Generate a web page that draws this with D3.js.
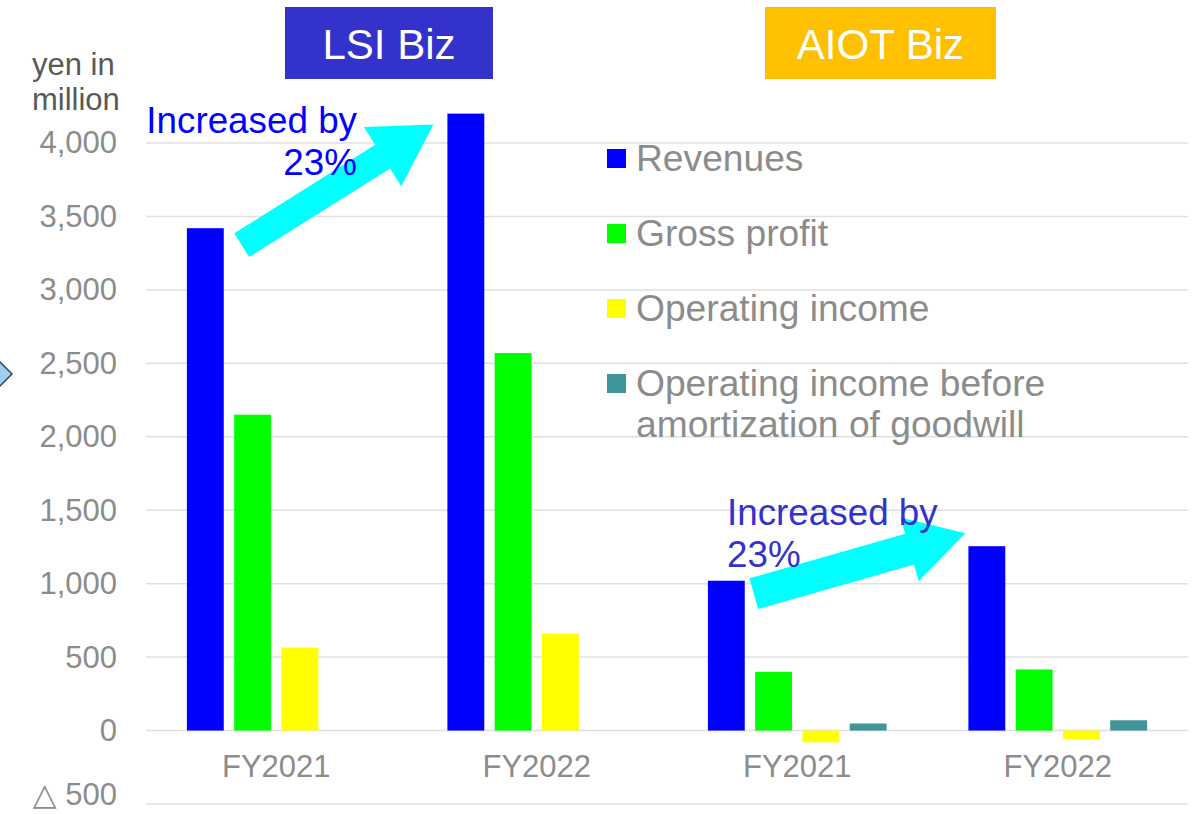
<!DOCTYPE html>
<html>
<head>
<meta charset="utf-8">
<script src="https://cdn.jsdelivr.net/npm/d3@7"></script>
<style>
  html, body { margin: 0; padding: 0; background: #fff; }
  svg { display: block; font-family: "Liberation Sans", Arial, sans-serif; }
</style>
</head>
<body>
<svg id="chart" width="1201" height="814"></svg>
<script>
'use strict'

// chart data
var segments = ['LSI Biz', 'AIOT Biz']
var years = ['FY2021', 'FY2022']
var seriesNames = ['Revenues', 'Gross profit', 'Operating income', 'Operating income before\namortization of goodwill']
var seriesColors = ['#0000ff', '#00ff00', '#ffff00', '#3f9599']
// one value per category: LSI FY2021, LSI FY2022, AIOT FY2021, AIOT FY2022
var revenues = [3420, 4200, 1020, 1255]
var grossProfit = [2150, 2570, 400, 416]
var operatingIncome = [565, 660, -80, -59]
var opIncomeBeforeGoodwill = [null, null, 48, 70]
var yTicks = [-500, 0, 500, 1000, 1500, 2000, 2500, 3000, 3500, 4000]
var growthLabels = ['Increased by|23%', 'Increased by|23%']

var seriesValues = [revenues, grossProfit, operatingIncome, opIncomeBeforeGoodwill]
var categories = []
segments.forEach((s) => years.forEach((y) => categories.push({ segment: s, year: y })))

var svg = d3.select('#chart')
var FONT_GRAY = '#8c8c8c'

var x0 = d3.scaleBand()
  .domain(d3.range(categories.length))
  .range([146, 1188])

var bw = x0.bandwidth()
var x1 = d3.scaleBand()
  .domain(d3.range(seriesNames.length))
  .range([bw * 0.157, bw * 0.843])
  .paddingInner(0.22)

var y = d3.scaleLinear()
  .domain([-500, 4000])
  .range([804, 143])

var fmt = d3.format(',')

// gridlines
svg.append('g')
  .selectAll('line')
  .data(yTicks)
  .enter().append('line')
    .attr('x1', x0.range()[0])
    .attr('x2', x0.range()[1])
    .attr('y1', (d) => y(d))
    .attr('y2', (d) => y(d))
    .attr('stroke', '#e0e0e0')
    .attr('stroke-width', 1.5)

// y axis labels, negatives written with a triangle as in Japanese reports
var yAxis = d3.axisLeft(y).tickValues(yTicks).tickFormat((d) => fmt(Math.abs(d))).tickSize(0).tickPadding(29)
var yLabels = svg.append('g')
  .attr('transform', 'translate(' + x0.range()[0] + ',0)')
  .call(yAxis)
  .call((g) => g.select('.domain').remove())
  .selectAll('text')
    .attr('fill', FONT_GRAY)
    .attr('font-size', 31)
    .attr('font-family', '"Liberation Sans", Arial, sans-serif')

yLabels.filter((d) => d < 0)
  .attr('dy', '0.02em')
  .text(null)
  .call((t) => {
    t.append('tspan')
      .attr('font-family', '"DejaVu Sans", sans-serif')
      .attr('font-size', 31)
      .text('\u25b3')
    t.append('tspan')
      .text((d) => ' ' + fmt(-d))
  })

// unit label
svg.append('text')
  .attr('x', 32).attr('y', 75)
  .attr('font-size', 31).attr('fill', '#595959')
  .text('yen in')
svg.append('text')
  .attr('x', 32).attr('y', 110)
  .attr('font-size', 31).attr('fill', '#595959')
  .text('million')

// x axis labels
var xAxis = d3.axisBottom(x0).tickFormat((i) => categories[i].year).tickSize(0).tickPadding(24)
svg.append('g')
  .attr('transform', 'translate(0,' + y(0) + ')')
  .call(xAxis)
  .call((g) => g.select('.domain').remove())
  .selectAll('text')
    .attr('fill', FONT_GRAY)
    .attr('font-size', 31)
    .attr('font-family', '"Liberation Sans", Arial, sans-serif')

// bars
var barData = []
categories.forEach((c, ci) => {
  seriesValues.forEach((vals, si) => {
    if (vals[ci] != null) barData.push({ ci: ci, si: si, value: vals[ci] })
  })
})

svg.append('g')
  .selectAll('rect')
  .data(barData)
  .enter().append('rect')
    .attr('x', (d) => x0(d.ci) + x1(d.si))
    .attr('width', x1.bandwidth())
    .attr('y', (d) => y(Math.max(0, d.value)))
    .attr('height', (d) => Math.abs(y(d.value) - y(0)))
    .attr('fill', (d) => seriesColors[d.si])

// legend
var legend = svg.append('g')
  .selectAll('g')
  .data(seriesNames)
  .enter().append('g')
    .attr('transform', (d, i) => 'translate(607,' + (149 + i * 75) + ')')

legend.append('rect')
  .attr('width', 19).attr('height', 19)
  .attr('fill', (d, i) => seriesColors[i])

legend.append('text')
  .attr('x', 29).attr('y', 22)
  .attr('font-size', 37.2)
  .attr('fill', FONT_GRAY)
  .selectAll('tspan')
  .data((d) => d.split('\n'))
  .enter().append('tspan')
    .attr('x', 29)
    .attr('dy', (d, i) => i ? 41 : 0)
    .text((d) => d)

// segment title boxes
var titleBoxes = [
  { x: 285, w: 208, fill: '#3333cc' },
  { x: 765, w: 231, fill: '#ffc000' }
]
var titles = svg.append('g')
  .selectAll('g')
  .data(segments)
  .enter().append('g')

titles.append('rect')
  .attr('x', (d, i) => titleBoxes[i].x)
  .attr('y', 7)
  .attr('width', (d, i) => titleBoxes[i].w)
  .attr('height', 72)
  .attr('fill', (d, i) => titleBoxes[i].fill)

titles.append('text')
  .attr('x', (d, i) => titleBoxes[i].x + titleBoxes[i].w / 2)
  .attr('y', 59)
  .attr('text-anchor', 'middle')
  .attr('font-size', 42)
  .attr('fill', '#fff')
  .text((d) => d)

// growth arrows, anchored on the revenue bars they compare
var arrows = [
  { from: 0, to: 1, tail: [18, 17], tip: [-14, 11], shaft: 14, head: 35, headLen: 60 },
  { from: 2, to: 3, tail: [9, 13], tip: [-3, -13], shaft: 16, head: 33, headLen: 58 }
]

function arrowPoints (a) {
  var tx = x0(a.from) + x1(0) + x1.bandwidth() + a.tail[0]
  var ty = y(revenues[a.from]) + a.tail[1]
  var px = x0(a.to) + x1(0) + a.tip[0]
  var py = y(revenues[a.to]) + a.tip[1]
  var len = Math.hypot(px - tx, py - ty)
  var ux = (px - tx) / len
  var uy = (py - ty) / len
  var nx = -uy
  var ny = ux
  var bx = px - ux * a.headLen
  var by = py - uy * a.headLen
  return [
    [tx + nx * a.shaft, ty + ny * a.shaft],
    [bx + nx * a.shaft, by + ny * a.shaft],
    [bx + nx * a.head, by + ny * a.head],
    [px, py],
    [bx - nx * a.head, by - ny * a.head],
    [bx - nx * a.shaft, by - ny * a.shaft],
    [tx - nx * a.shaft, ty - ny * a.shaft]
  ]
}

svg.append('g')
  .selectAll('polygon')
  .data(arrows)
  .enter().append('polygon')
    .attr('points', (d) => arrowPoints(d).map((p) => p.join(',')).join(' '))
    .attr('fill', '#00ffff')

// growth annotations
var noteStyles = [
  { x: 357, y: 133, anchor: 'end', fill: '#0000ff' },
  { x: 727, y: 525, anchor: 'start', fill: '#3333cc' }
]
svg.append('g')
  .selectAll('text')
  .data(growthLabels)
  .enter().append('text')
    .attr('x', (d, i) => noteStyles[i].x)
    .attr('y', (d, i) => noteStyles[i].y)
    .attr('text-anchor', (d, i) => noteStyles[i].anchor)
    .attr('font-size', 36.8)
    .attr('fill', (d, i) => noteStyles[i].fill)
    .each(function (d, i) {
      d3.select(this).selectAll('tspan')
        .data(d.split('|'))
        .enter().append('tspan')
          .attr('x', noteStyles[i].x)
          .attr('dy', (t, j) => j ? 42 : 0)
          .text((t) => t)
    })

// clipped slide marker on the left edge
svg.append('path')
  .attr('d', 'M-34,374 L-11,351 L12,374 L-11,397 Z')
  .attr('fill', '#9dcff5')
  .attr('stroke', '#404040')
  .attr('stroke-width', 1.5)
</script>
</body>
</html>
